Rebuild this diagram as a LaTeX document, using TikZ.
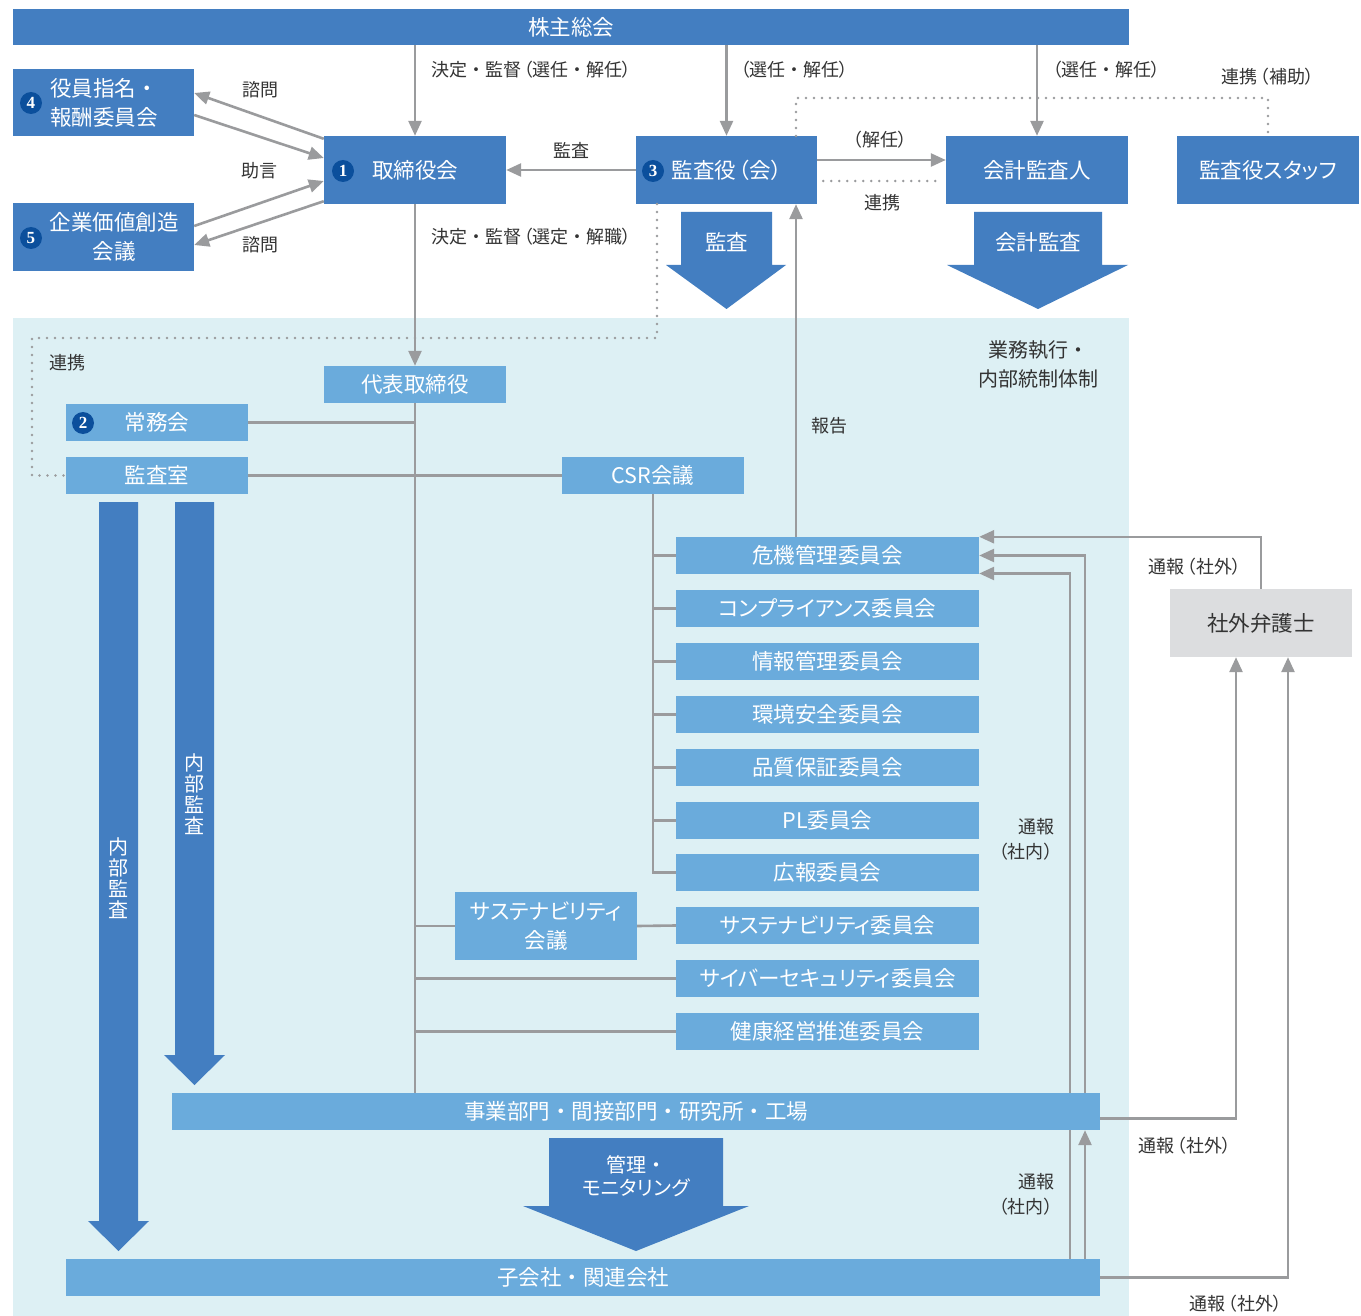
\documentclass[tikz,border=0pt]{standalone}
\usepackage{fontspec}
\setmainfont{Noto Sans CJK JP}[RawFeature={+palt}]
\newfontfamily\nopaltfont{Noto Sans CJK JP}
\newfontfamily\badgefont{Liberation Serif}
\newcommand\mydot{{\nopaltfont ・}}
\newcommand\lpar{\kern0.12em（}
\newcommand\rpar{）\kern0.12em}
\usetikzlibrary{arrows.meta}
\definecolor{dblue}{HTML}{437EC1}
\definecolor{lblue}{HTML}{6AABDC}
\definecolor{bgblue}{HTML}{DDF0F4}
\definecolor{lgray}{HTML}{9A9B9D}
\definecolor{badgec}{HTML}{0B4F9C}
\definecolor{txt}{HTML}{333333}
\definecolor{lawyer}{HTML}{DCDDDF}
\tikzset{
  boxbase/.style={inner sep=0pt,text=white,align=center,font=\fontsize{21.5}{29}\selectfont},
  dbox/.style={boxbase,fill=dblue},
  lbox/.style={boxbase,fill=lblue},
  btext/.style={inner sep=0pt,text=white,align=center,font=\fontsize{21.5}{29}\selectfont},
  conn/.style={draw=lgray,line width=2.6pt},
  arr/.style={conn,-{Triangle[length=15pt,width=13pt]}},
  dotline/.style={draw=lgray,line width=2.6pt,line cap=round,dash pattern=on 0pt off 8pt},
  lab/.style={inner sep=0pt,text=txt,font=\fontsize{18}{25}\selectfont},
  badge/.style={circle,fill=badgec,text=white,inner sep=0pt,minimum size=22pt,font=\badgefont\bfseries\fontsize{17}{17}\selectfont},
  committee/.style={lbox,minimum width=303pt,minimum height=37pt}
}
\begin{document}
\begin{tikzpicture}[x=1pt,y=-1pt]
\useasboundingbox (0,0) rectangle (1361,1316);
\fill[white] (0,0) rectangle (1361,1316);
\fill[bgblue] (13,318) rectangle (1129,1316);

% top row
\node[dbox,minimum width=1116pt,minimum height=36pt] (shm) at (571,27) {株主総会};
\node[dbox,minimum width=181pt,minimum height=67pt] (yakuin) at (103.5,102.5) {};
\node[btext] (yakuinT) at (104,102.5) {役員指名\mydot\\報酬委員会};
\node[badge] (b4) at (31,103) {4};
\node[dbox,minimum width=181pt,minimum height=68pt] (kigyo) at (103.5,237) {};
\node[btext] (kigyoT) at (114,237) {企業価値創造\\会議};
\node[badge] (b5) at (31,238) {5};
\node[dbox,minimum width=182pt,minimum height=68pt] (tori) at (415,170) {取締役会};
\node[badge] (b1) at (343,171) {1};
\node[dbox,minimum width=181pt,minimum height=68pt] (kansa) at (726.5,170) {};
\node[btext] (kansaT) at (728,170) {監査役\lpar 会\rpar};
\node[badge] (b3) at (653,171) {3};
\node[dbox,minimum width=182pt,minimum height=68pt] (kaikei) at (1037,170) {会計監査人};
\node[dbox,minimum width=182pt,minimum height=68pt] (staff) at (1268,170) {監査役スタッフ};

\draw[arr] (shm.south -| tori) -- (tori.north);
\draw[arr] (shm.south -| kansa) -- (kansa.north);
\draw[arr] (shm.south -| kaikei) -- (kaikei.north);
\node[lab,anchor=west] (l1) at (431,70) {決定\mydot 監督\lpar 選任\mydot 解任\rpar};
\node[lab,anchor=west] (l2) at (738,70) {\lpar 選任\mydot 解任\rpar};
\node[lab,anchor=west] (l3) at (1050,70) {\lpar 選任\mydot 解任\rpar};
\node[lab] (l4) at (1269,77) {連携\lpar 補助\rpar};

\coordinate (d1) at (796,136);
\coordinate (dtop) at (1268,98);
\draw[dotline] (d1) |- (dtop) -- (staff.north);

\draw[arr] (kansa.west) -- (tori.east);
\node[lab] (lk) at (571,150) {監査};
\draw[arr] ([yshift=10pt]kansa.east) -- ([yshift=10pt]kaikei.west);
\node[lab] (lkn) at (880,140) {\lpar 解任\rpar};
\draw[dotline] ([xshift=6pt,yshift=-11pt]kansa.east) -- ([xshift=-5pt,yshift=-11pt]kaikei.west);
\node[lab] (lr1) at (882,203) {連携};

\draw[arr] ([yshift=-3pt]tori.north west) -- ([yshift=9.5pt]yakuin.east);
\draw[arr] ([yshift=-12.5pt]yakuin.east) -- ([yshift=12pt]tori.west);
\draw[arr] ([yshift=11pt]kigyo.east) -- ([yshift=-11pt]tori.west);
\draw[arr] ([yshift=3pt]tori.south west) -- ([yshift=-8pt]kigyo.east);
\node[lab] (ls1) at (260,90) {諮問};
\node[lab] (ls2) at (259,171) {助言};
\node[lab] (ls3) at (260,245) {諮問};

% big arrows top
\fill[dblue] (681,212) -- (772,212) -- (772,265) -- (786,265) -- (726.5,309) -- (666,265) -- (681,265) -- cycle;
\node[btext] (kansaA) at (726.5,242) {監査};
\fill[dblue] (974,212) -- (1102,212) -- (1102,265) -- (1128,265) -- (1038,309) -- (947,265) -- (974,265) -- cycle;
\node[btext] (kaikeiA) at (1038,242) {会計監査};

% execution area
\node[lbox,minimum width=182pt,minimum height=37pt] (daihyo) at (415,384.5) {代表取締役};
\draw[arr] (tori.south) -- (daihyo.north);
\node[lab,anchor=west] (l5) at (431,237) {決定\mydot 監督\lpar 選定\mydot 解職\rpar};
\node[lab,align=center,font=\fontsize{20}{29}\selectfont] (gyomu) at (1038,364.5) {業務執行\mydot\\内部統制体制};

\node[lbox,minimum width=182pt,minimum height=37pt] (jomu) at (157,422.5) {常務会};
\node[badge] (b2) at (83,423) {2};
\node[lbox,minimum width=182pt,minimum height=37pt] (kansashitsu) at (157,475.5) {監査室};
\node[lbox,minimum width=182pt,minimum height=37pt] (csr) at (653,475.5) {CSR会議};

\coordinate (d2) at (657,204);
\coordinate (dl1) at (32,338);
\draw[dotline] (d2) |- (dl1) |- (kansashitsu.west);
\node[lab] (lr2) at (67,363) {連携};

\node[committee] (c1) at (827.5,555.5) {危機管理委員会};
\node[committee] (c2) at (827.5,608.5) {コンプライアンス委員会};
\node[committee] (c3) at (827.5,661.5) {情報管理委員会};
\node[committee] (c4) at (827.5,714.5) {環境安全委員会};
\node[committee] (c5) at (827.5,767.5) {品質保証委員会};
\node[committee] (c6) at (827.5,820.5) {PL委員会};
\node[committee] (c7) at (827.5,872.5) {広報委員会};
\node[committee] (c8) at (827.5,925.5) {サステナビリティ委員会};
\node[committee] (c9) at (827.5,978.5) {サイバーセキュリティ委員会};
\node[committee] (c10) at (827.5,1031.5) {健康経営推進委員会};
\node[lbox,minimum width=182pt,minimum height=68pt] (sustK) at (546,926) {サステナビリティ\\会議};

\draw[conn] (jomu.east) -- (jomu.east -| daihyo.south);
\draw[conn] (kansashitsu.east) -- (csr.west);
\draw[conn] (csr.south) |- (c7.west);
\foreach \c in {c1,c2,c3,c4,c5,c6} {\draw[conn] (\c.west -| csr.south) -- (\c.west);}
\draw[conn] (sustK.west -| daihyo.south) -- (sustK.west);
\draw[conn] (sustK.east) -- (c8.west);
\draw[conn] (c9.west -| daihyo.south) -- (c9.west);
\draw[conn] (c10.west -| daihyo.south) -- (c10.west);

\coordinate (r1) at (796,537);
\draw[arr] (r1) -- (r1 |- kansa.south);
\node[lab] (lh) at (829,426) {報告};

% lawyer
\node[minimum width=182pt,minimum height=68pt,fill=lawyer,text=txt,inner sep=0pt,font=\fontsize{21.5}{29}\selectfont] (bengoshi) at (1261,623) {社外弁護士};
\draw[arr] (bengoshi.north) |- (c1.north east);
\node[lab] (lt1) at (1196,567) {通報\lpar 社外\rpar};

\coordinate (k1) at (1070,1259);
\draw[arr] (k1) |- ([yshift=-18pt]c1.east);

% internal audit arrows
\fill[dblue] (99,502) -- (138,502) -- (138,1221) -- (149,1221) -- (118.5,1251) -- (88,1221) -- (99,1221) -- cycle;
\node[btext,font=\fontsize{20}{21}\selectfont] (naibu1) at (118.5,878) {内\\部\\監\\査};
\fill[dblue] (175,502) -- (214,502) -- (214,1055) -- (225,1055) -- (194.5,1085) -- (164,1055) -- (175,1055) -- cycle;
\node[btext,font=\fontsize{20}{21}\selectfont] (naibu2) at (194.5,794) {内\\部\\監\\査};

\node[lbox,minimum width=928pt,minimum height=37pt] (jigyo) at (636,1111.5) {事業部門\mydot 間接部門\mydot 研究所\mydot 工場};
\node[lbox,minimum width=1034pt,minimum height=37pt] (kogaisha) at (583,1277.5) {子会社\mydot 関連会社};

\draw[conn] (daihyo.south) -- (jigyo.north -| daihyo.south);

\coordinate (j1) at (1085,1093);
\draw[arr] (j1) |- (c1.east);
\coordinate (k2) at (1085,1259);
\draw[arr] (k2) -- (k2 |- jigyo.south);
\node[lab,align=right,anchor=east] (ln1) at (1055,839.5) {通報\\\lpar 社内\rpar};
\node[lab,align=right,anchor=east] (ln2) at (1055,1194.5) {通報\\\lpar 社内\rpar};

\draw[arr] ([yshift=-7pt]jigyo.east) -| ([xshift=-25pt]bengoshi.south);
\draw[arr] (kogaisha.east) -| ([xshift=27pt]bengoshi.south);
\node[lab] (lt2) at (1186,1146) {通報\lpar 社外\rpar};
\node[lab] (lt3) at (1237,1304) {通報\lpar 社外\rpar};

% management arrow
\fill[dblue] (549,1138) -- (723,1138) -- (723,1206) -- (749,1206) -- (636,1251) -- (523,1206) -- (549,1206) -- cycle;
\node[btext,font=\fontsize{20}{23}\selectfont] (kanri) at (636,1176) {管理\mydot\\モニタリング};
\end{tikzpicture}
\end{document}
